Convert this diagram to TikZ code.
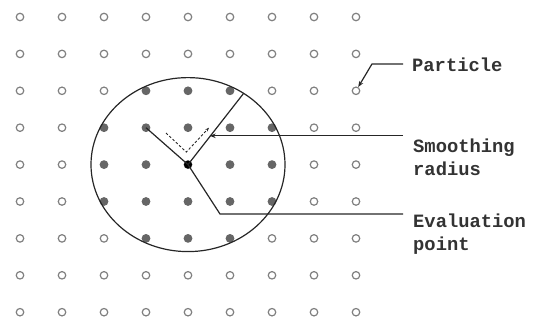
\documentclass[tikz,border=0pt]{standalone}
\usepackage{fontspec}
\newfontfamily\labelfont{Liberation Mono}
\usetikzlibrary{calc,arrows.meta}
\begin{document}
\begin{tikzpicture}[x=42pt,y=-36.9pt,
  pdot/.style={circle,draw=black!50,line width=1.2pt,inner sep=0pt,minimum size=7.5pt},
  pdotin/.style={pdot,draw=black!60,fill=black!60},
  evdot/.style={circle,fill=black,inner sep=0pt,minimum size=8pt},
  lead/.style={draw=black!85,line width=1.2pt},
  lbl/.style={font=\labelfont\bfseries\fontsize{18.8}{23}\selectfont,text=black!80,
    align=left,anchor=north west,inner sep=0pt}]%
% page frame 539 x 327
\useasboundingbox (-20pt,17pt) rectangle ++(539pt,-327pt);
% particles on the grid
\foreach \i in {0,...,8}
 \foreach \j in {0,...,8}{
  \pgfmathsetmacro\q{((\i-4)*42/97)^2+((\j-4)*36.9/87)^2}
  \ifdim\q pt<1pt
   \node[pdotin] (p-\i-\j) at (\i,\j) {};
  \else
   \node[pdot] (p-\i-\j) at (\i,\j) {};
  \fi
 }
% evaluation point and support domain
\node[evdot] (ev) at (4,4) {};
\draw[lead] (ev.center) ellipse [x radius=97pt, y radius=87pt];
\coordinate (rim) at ($(ev.center)+(55:97pt and 87pt)$);
\draw[lead] (ev.center) -- (rim);
\draw[lead] (ev.center) -- (p-3-3.center);
\coordinate (d1) at (3.476,3.144);
\coordinate (d2) at (3.96,3.66);
\coordinate (d3) at (4.5,3.0);
\draw[lead,line width=0.9pt,dash pattern=on 2.5pt off 2pt,-{Stealth[length=4pt]}]
 (d1) -- (d2) -- (d3);
% labels
\node[lbl] (tpart) at (9.333,1.111) {Particle};
\node[lbl] (tsmooth) at (9.357,3.306) {Smoothing\\radius};
\node[lbl] (teval) at (9.357,5.339) {Evaluation\\point};
\coordinate (pk) at (9.12,1.274);
\coordinate (pb) at (8.38,1.274);
\draw[lead,-{Stealth[length=6pt]}] (pk) -- (pb) -- (p-8-2);
\coordinate (sr) at ($(ev.center)!0.39!(rim)$);
\coordinate (sk) at (9.12,3.22);
\draw[lead,-{Stealth[length=6pt]}] (sk) -- (sk -| sr);
\coordinate (eb) at (4.762,5.339);
\coordinate (ek) at (9.12,5.339);
\draw[lead] (ev.center) -- (eb) -- (ek);
\end{tikzpicture}
\end{document}
